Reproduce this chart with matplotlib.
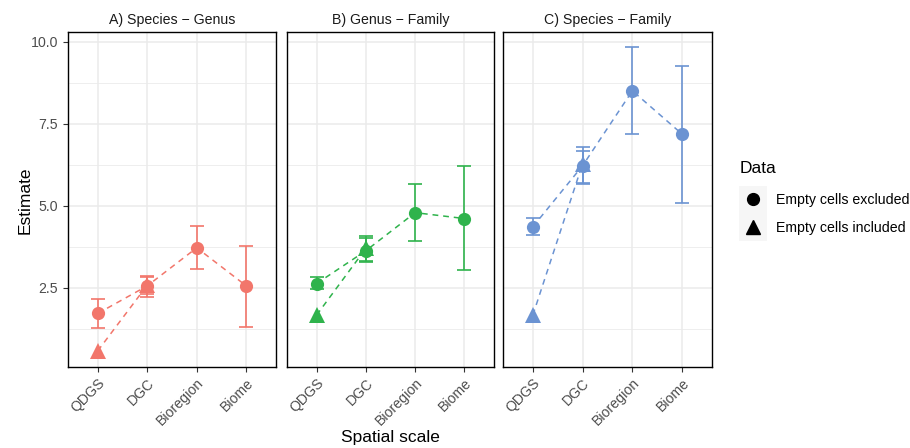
#!/usr/bin/env python3
"""Faceted point + error bar chart of estimates across spatial scales."""

import matplotlib

matplotlib.use("Agg")
import matplotlib.pyplot as plt
from matplotlib.lines import Line2D
from matplotlib.patches import Rectangle
from matplotlib.ticker import FormatStrFormatter, MultipleLocator
import numpy as np


SCALES = ["QDGS", "DGC", "Bioregion", "Biome"]
PANELS = ["A) Species \u2212 Genus", "B) Genus \u2212 Family", "C) Species \u2212 Family"]
COLORS = ["#F2766B", "#2FB34C", "#6B93D2"]

# empty cells excluded (circles), one row per panel
EXCL_EST = [
    [1.72, 2.56, 3.72, 2.56],
    [2.63, 3.63, 4.79, 4.61],
    [4.36, 6.22, 8.50, 7.18],
]
EXCL_LO = [
    [1.28, 2.22, 3.07, 1.32],
    [2.45, 3.28, 3.93, 3.03],
    [4.10, 5.67, 7.18, 5.09],
]
EXCL_HI = [
    [2.16, 2.86, 4.37, 3.77],
    [2.82, 4.03, 5.66, 6.21],
    [4.62, 6.68, 9.83, 9.26],
]

# empty cells included (triangles), only the two finest scales;
# no interval is shown at QDGS
INCL_EST = [
    [0.58, 2.58],
    [1.67, 3.70],
    [1.67, 6.28],
]
INCL_LO = [
    [np.nan, 2.30],
    [np.nan, 3.32],
    [np.nan, 5.70],
]
INCL_HI = [
    [np.nan, 2.83],
    [np.nan, 4.07],
    [np.nan, 6.80],
]

GRID = "#EBEBEB"
TEXT = "#4D4D4D"
SMALL = 10.2
BIG = 12.5

plt.rcParams["font.family"] = ["Liberation Sans", "DejaVu Sans"]


def draw_series(ax, xs, est, lo, hi, color, marker):
    est = np.asarray(est, dtype=float)
    lo = np.asarray(lo, dtype=float)
    hi = np.asarray(hi, dtype=float)
    ok = ~(np.isnan(lo) | np.isnan(hi))
    xs = np.asarray(xs)
    yerr = np.vstack([est[ok] - lo[ok], hi[ok] - est[ok]])
    ax.errorbar(
        xs[ok],
        est[ok],
        yerr=yerr,
        fmt="none",
        ecolor=color,
        elinewidth=1.2,
        capsize=4.7,
        capthick=1.2,
        zorder=3,
    )
    ax.plot(xs, est, color=color, linestyle=(0, (3.8, 3.2)), linewidth=1.1, zorder=3)
    ax.plot(
        xs,
        est,
        linestyle="none",
        marker=marker,
        markersize=9.5 if marker == "o" else 11.5,
        color=color,
        markeredgewidth=0,
        zorder=4,
    )


def main():
    fig = plt.figure(figsize=(9.1, 4.48), dpi=100)
    lefts = [68, 287, 503]
    widths = [208, 207, 209]
    top_px, bottom_px = 32, 367
    x_idx = np.arange(len(SCALES))

    for i, title in enumerate(PANELS):
        ax = fig.add_axes([
            lefts[i] / 910,
            1 - bottom_px / 448,
            widths[i] / 910,
            (bottom_px - top_px) / 448,
        ])
        ax.set_xlim(-0.6, 3.6)
        ax.set_ylim(0.09, 10.29)
        ax.yaxis.set_major_locator(MultipleLocator(2.5))
        ax.yaxis.set_minor_locator(MultipleLocator(1.25))
        ax.yaxis.set_major_formatter(FormatStrFormatter("%.1f"))
        ax.set_xticks(x_idx)
        ax.set_xticklabels(SCALES, rotation=45, ha="right", rotation_mode="anchor")
        ax.grid(which="major", color=GRID, linewidth=1.1, zorder=0)
        ax.grid(which="minor", axis="y", color=GRID, linewidth=0.6, zorder=0)
        ax.set_axisbelow(True)
        for spine in ax.spines.values():
            spine.set_color("black")
            spine.set_linewidth(1.0)
        ax.tick_params(axis="both", which="major", length=3.5, width=0.8,
                       color="#333333", labelcolor=TEXT, labelsize=SMALL)
        ax.tick_params(axis="y", which="minor", length=0)
        ax.tick_params(axis="x", pad=3)
        if i > 0:
            ax.tick_params(axis="y", left=False, labelleft=False)
        ax.set_title(title, fontsize=SMALL, color="#1A1A1A", pad=6)

        draw_series(ax, x_idx, EXCL_EST[i], EXCL_LO[i], EXCL_HI[i], COLORS[i], "o")
        draw_series(ax, x_idx[:2], INCL_EST[i], INCL_LO[i], INCL_HI[i], COLORS[i], "^")

    fig.text(25 / 910, 1 - 200 / 448, "Estimate", rotation=90, ha="center",
             va="center", fontsize=BIG, color="black")
    fig.text(390 / 910, 1 - 437 / 448, "Spatial scale", ha="center",
             va="center", fontsize=BIG, color="black")

    # light key background as in the ggplot legend
    fig.patches.append(Rectangle((739 / 910, 1 - 241 / 448), 28 / 910, 55 / 448,
                                 transform=fig.transFigure, facecolor="#F6F6F6",
                                 edgecolor="none", zorder=0))
    handles = [
        Line2D([], [], linestyle="none", marker="o", markersize=8.5, color="black"),
        Line2D([], [], linestyle="none", marker="^", markersize=10, color="black"),
    ]
    leg = fig.legend(
        handles,
        ["Empty cells excluded", "Empty cells included"],
        title="Data",
        loc="upper left",
        bbox_to_anchor=(740 / 910, 1 - 161 / 448),
        borderaxespad=0,
        borderpad=0,
        frameon=False,
        fontsize=SMALL,
        title_fontsize=BIG,
        handletextpad=0.7,
        labelspacing=1.0,
        handlelength=1.83,
    )
    leg._legend_box.align = "left"
    leg._legend_box.sep = 12

    fig.savefig("out.png", dpi=100)
    plt.close(fig)


if __name__ == "__main__":
    main()
